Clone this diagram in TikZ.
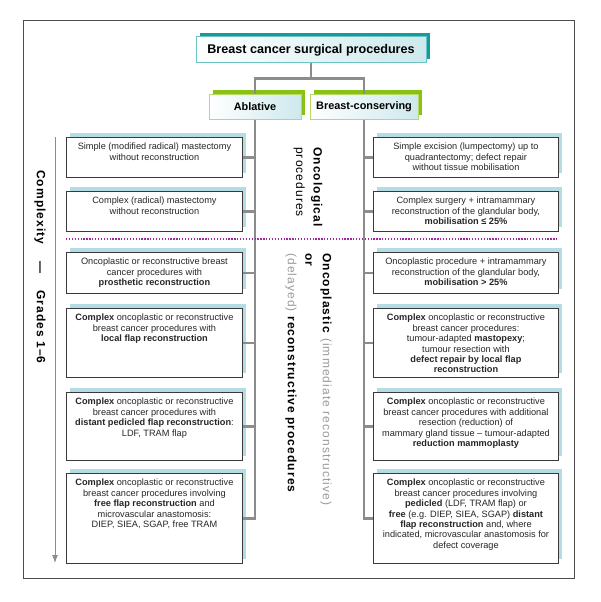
\documentclass[tikz,border=0pt]{standalone}
\usepackage{fontspec}
\setmainfont{Liberation Sans}
\newfontfamily\spacedfont[LetterSpace=9]{Liberation Sans}
\usepackage{tikz}
\usetikzlibrary{arrows,arrows.meta}
\usetikzlibrary{shadows,positioning}

\definecolor{boxline}{HTML}{3A3A3A}
\definecolor{boxshade}{HTML}{B3DDE2}
\definecolor{trunk}{HTML}{8C8C8C}
\definecolor{titleline}{HTML}{6CC3C3}
\definecolor{titleshade}{HTML}{149C9C}
\definecolor{titlefill}{HTML}{CDE9ED}
\definecolor{greenline}{HTML}{B9D865}
\definecolor{greenshade}{HTML}{88C212}
\definecolor{dotline}{HTML}{A3259F}
\definecolor{softgray}{HTML}{9A9A9A}

\tikzset{>=latex,
  procbox/.style={draw=boxline, fill=white, line width=0.9pt, inner sep=0pt,
    drop shadow={shadow xshift=4pt, shadow yshift=4pt, fill=boxshade, opacity=1},
    font=\fontsize{9.2}{10.4}\selectfont, text=black!85},
  titlebox/.style={draw=titleline, line width=1pt, left color=white, right color=titlefill,
    minimum width=230pt, minimum height=26pt, inner sep=0pt,
    drop shadow={shadow xshift=4pt, shadow yshift=4pt, fill=titleshade, opacity=1},
    font=\fontsize{12.6}{14}\selectfont\bfseries},
  branchbox/.style={draw=greenline, line width=1pt, left color=white, right color=titlefill,
    minimum height=25pt, inner sep=0pt,
    drop shadow={shadow xshift=4pt, shadow yshift=4pt, fill=greenshade, opacity=1},
    font=\fontsize{10.9}{12}\selectfont\bfseries},
  conn/.style={draw=trunk, line width=2.2pt},
  sidetext/.style={font=\fontsize{12}{17.5}\selectfont\spacedfont, inner sep=0pt}}

\newcommand{\boxlines}[3]{\parbox[c][#2][t]{#1}{\centering\rule{0pt}{12.5pt}#3}}

\begin{document}
\begin{tikzpicture}[x=1pt,y=-1pt]
  \useasboundingbox (0,0) rectangle (600,602);

  % outer frame
  \draw [color=black!70, line width=0.9pt] (23,20) rectangle (574,578);

  % head and the two branches
  \node [titlebox] (title) at (311,50) {Breast cancer surgical procedures};
  \node [branchbox, minimum width=92pt] (abl) at (255,106.5) {Ablative};
  \node [branchbox, minimum width=108pt] (bc) at (364,106.5) {Breast-conserving};

  % ablative column
  \node [procbox, anchor=north west] (l1) at (66,137) {\boxlines{176pt}{40pt}{Simple (modified radical) mastectomy\\ without reconstruction}};
  \node [procbox, anchor=north west] (l2) at (66,191) {\boxlines{176pt}{40pt}{Complex (radical) mastectomy\\ without reconstruction}};
  \node [procbox, anchor=north west] (l3) at (66,252) {\boxlines{176pt}{41pt}{Oncoplastic or reconstructive breast\\ cancer procedures with\\ \textbf{prosthetic reconstruction}}};
  \node [procbox, anchor=north west] (l4) at (66,308) {\boxlines{176pt}{69pt}{\textbf{Complex} oncoplastic or reconstructive\\ breast cancer procedures with\\ \textbf{local flap reconstruction}}};
  \node [procbox, anchor=north west] (l5) at (66,392) {\boxlines{176pt}{68pt}{\textbf{Complex} oncoplastic or reconstructive\\ breast cancer procedures with\\ \textbf{distant pedicled flap reconstruction}:\\ LDF, TRAM flap}};
  \node [procbox, anchor=north west] (l6) at (66,473) {\boxlines{176pt}{90pt}{\textbf{Complex} oncoplastic or reconstructive\\ breast cancer procedures involving\\ \textbf{free flap reconstruction} and\\ microvascular anastomosis:\\ DIEP, SIEA, SGAP, free TRAM}};

  % breast-conserving column
  \node [procbox, anchor=north west] (r1) at (373,137) {\boxlines{185pt}{40pt}{Simple excision (lumpectomy) up to\\ quadrantectomy; defect repair\\ without tissue mobilisation}};
  \node [procbox, anchor=north west] (r2) at (373,191) {\boxlines{185pt}{40pt}{Complex surgery + intramammary\\ reconstruction of the glandular body,\\ \textbf{mobilisation ≤ 25\%}}};
  \node [procbox, anchor=north west] (r3) at (373,252) {\boxlines{185pt}{41pt}{Oncoplastic procedure + intramammary\\ reconstruction of the glandular body,\\ \textbf{mobilisation > 25\%}}};
  \node [procbox, anchor=north west] (r4) at (373,308) {\boxlines{185pt}{69pt}{\textbf{Complex} oncoplastic or reconstructive\\ breast cancer procedures:\\ tumour-adapted \textbf{mastopexy};\\ tumour resection with\\ \textbf{defect repair by local flap}\\ \textbf{reconstruction}}};
  \node [procbox, anchor=north west] (r5) at (373,392) {\boxlines{185pt}{68pt}{\textbf{Complex} oncoplastic or reconstructive\\ breast cancer procedures with additional\\ resection (reduction) of\\ mammary gland tissue – tumour-adapted\\ \textbf{reduction mammoplasty}}};
  \node [procbox, anchor=north west] (r6) at (373,473) {\boxlines{185pt}{90pt}{\textbf{Complex} oncoplastic or reconstructive\\ breast cancer procedures involving\\ \textbf{pedicled} (LDF, TRAM flap) or\\ \textbf{free} (e.g. DIEP, SIEA, SGAP) \textbf{distant}\\ \textbf{flap reconstruction} and, where\\ indicated, microvascular anastomosis for\\ defect coverage}};

  % tree lines
  \draw [conn] (title.south) -- ++(0,15) -| (abl.north);
  \draw [conn] (title.south) -- ++(0,15) -| (bc.north);
  \draw [conn] (abl.south) |- (l6.east);
  \draw [conn] (bc.south) |- (r6.west);
  \foreach \b in {l1,l2,l3,l4,l5}
    \draw [conn] (\b.east) -- (\b.east -| abl.south);
  \foreach \b in {r1,r2,r3,r4,r5}
    \draw [conn] (\b.west) -- (\b.west -| bc.south);

  % oncological / oncoplastic split
  \draw [dotline, line width=1.3pt, dash pattern=on 1.3pt off 1.6pt] (66,239) -- (558,239);

  % grade arrow
  \coordinate (gtop) at (55,137);
  \coordinate (gend) at (55,563);
  \draw [-{Latex[length=8pt,width=6pt]}, color=trunk, line width=1pt] (gtop) -- (gend);

  \node [sidetext, anchor=west, rotate=-90] (grades) at (40,170) {\bfseries Complexity\hspace{1.4em}—\hspace{1.4em}Grades 1–6};
  \node [sidetext, anchor=west, rotate=-90, align=left] (oncol) at (308,147) {\textbf{Oncological}\\ procedures};
  \node [sidetext, anchor=west, rotate=-90, align=left] (oncop) at (308.5,253) {\textbf{Oncoplastic} {\color{softgray}(immediate reconstructive)}\\ \textbf{or}\\ {\color{softgray}(delayed)} \textbf{reconstructive procedures}};

\end{tikzpicture}
\end{document}
